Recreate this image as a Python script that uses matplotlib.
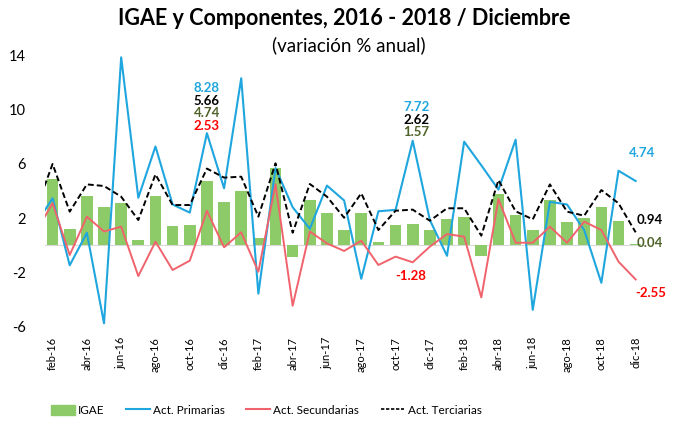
import matplotlib.pyplot as plt
import matplotlib.patches as mpatches
from matplotlib.lines import Line2D
import numpy as np

plt.rcParams['font.family'] = ['Lato', 'DejaVu Sans']

# monthly data, ene-16 .. dic-18 (ene-16 falls just outside the plot area)
meses = ['ene', 'feb', 'mar', 'abr', 'may', 'jun', 'jul', 'ago', 'sep', 'oct', 'nov', 'dic']
fechas = [f'{m}-{a}' for a in ['16', '17', '18'] for m in meses]

igae = [1.4, 4.9, 1.2, 3.6, 2.8, 3.1, 0.4, 3.6, 1.4, 1.5, 4.74, 3.2,
        4.0, 0.5, 5.7, -0.9, 3.3, 2.4, 1.1, 2.4, 0.2, 1.5, 1.57, 1.1,
        1.9, 2.1, -0.8, 3.8, 2.2, 1.1, 3.3, 1.7, 2.0, 2.8, 1.8, 0.04]
primarias = [1.5, 3.46, -1.5, 0.9, -5.8, 13.9, 3.5, 7.3, 3.0, 2.4, 8.28, 4.2,
             12.35, -3.6, 5.7, 2.8, 1.2, 4.4, 3.3, -2.5, 2.5, 2.6, 7.72, 1.85,
             -0.8, 7.65, 5.9, 4.1, 7.8, -4.8, 3.2, 3.0, 1.1, -2.8, 5.5, 4.74]
secundarias = [0.9, 3.1, -0.74, 2.1, 1.0, 1.36, -2.3, 0.25, -1.85, -1.16, 2.53, -0.17,
               0.94, -1.98, 4.5, -4.5, 1.0, 0.12, -0.44, 0.32, -1.48, -0.86, -1.28, -0.12,
               0.81, 0.62, -3.88, 3.4, 0.17, 0.17, 1.36, 0.17, 1.73, 1.11, -1.23, -2.55]
terciarias = [2.5, 6.0, 2.47, 4.49, 4.37, 3.58, 1.85, 5.23, 2.96, 2.96, 5.66, 4.99,
              5.06, 2.1, 6.05, 0.91, 4.52, 3.58, 2.02, 3.83, 1.11, 2.54, 2.62, 1.8,
              2.72, 2.72, 0.69, 4.81, 2.5, 1.9, 4.49, 2.47, 2.17, 4.07, 3.09, 0.94]

VERDE = '#8DCB68'
AZUL = '#1FA6DE'
ROJO = '#F0636C'
VERDE_TXT = '#4F6228'

fig = plt.figure(figsize=(6.76, 4.22), dpi=100)
ax = fig.add_axes([0.0666, 0.221, 0.8864, 0.656])

x = np.arange(len(fechas))
ax.bar(x, igae, width=0.68, color=VERDE, zorder=2)
ax.axhline(0, color='#d9d9d9', linewidth=0.8, zorder=1)
ax.plot(x, primarias, color=AZUL, linewidth=1.5, zorder=3)
ax.plot(x, secundarias, color=ROJO, linewidth=1.4, zorder=3)
ax.plot(x, terciarias, color='black', linewidth=1.4, linestyle=(0, (3, 1.6)), zorder=4)

ax.set_xlim(0.56, 35.5)
ax.set_ylim(-6.2, 14.3)
ax.set_yticks([-6, -2, 2, 6, 10, 14])
ax.set_yticklabels(['-6', '-2', '2', '6', '10', '14'])
ax.set_xticks(x[1::2])
ax.set_xticklabels(fechas[1::2], rotation=90, fontsize=8)
ax.tick_params(axis='y', length=0, pad=14, labelsize=10.5)
ax.tick_params(axis='x', length=0, pad=6)
ax.spines[['top', 'right', 'left', 'bottom']].set_visible(False)

# etiquetas de valores
bold = dict(fontsize=9.5, fontweight='bold', ha='center', va='center', clip_on=False)
i1, i2, i3 = 10, 22, 35
ax.text(i1, 11.6, f'{primarias[i1]:.2f}', color=AZUL, **bold)
ax.text(i1, 10.7, f'{terciarias[i1]:.2f}', color='black', **bold)
ax.text(i1, 9.8, f'{igae[i1]:.2f}', color=VERDE_TXT, **bold)
ax.text(i1, 8.8, f'{secundarias[i1]:.2f}', color='red', **bold)

ax.text(i2 + 0.2, 10.24, f'{primarias[i2]:.2f}', color=AZUL, **bold)
ax.text(i2 + 0.2, 9.26, f'{terciarias[i2]:.2f}', color='black', **bold)
ax.text(i2 + 0.2, 8.39, f'{igae[i2]:.2f}', color=VERDE_TXT, **bold)
ax.text(i2 - 0.1, -2.3, f'{secundarias[i2]:.2f}', color='red', **bold)

ax.text(i3 + 0.4, 6.8, f'{primarias[i3]:.2f}', color=AZUL, **bold)
ax.text(i3 + 0.8, 1.85, f'{terciarias[i3]:.2f}', color='black', **bold)
ax.text(i3 + 0.8, 0.15, f'{igae[i3]:.2f}', color=VERDE_TXT, **bold)
ax.text(i3 + 0.9, -3.56, f'{secundarias[i3]:.2f}', color='red', **bold)

fig.text(0.509, 0.955, 'IGAE y Componentes, 2016 - 2018 / Diciembre',
         ha='center', va='center', fontsize=15.5, fontweight='bold')
fig.text(0.516, 0.893, '(variación % anual)', ha='center', va='center', fontsize=13.5)

handles = [mpatches.Patch(color=VERDE, label='IGAE'),
           Line2D([], [], color=AZUL, linewidth=1.5, label='Act. Primarias'),
           Line2D([], [], color=ROJO, linewidth=1.5, label='Act. Secundarias'),
           Line2D([], [], color='black', linewidth=1.2, linestyle=(0, (2, 1)), label='Act. Terciarias')]
fig.legend(handles=handles, loc='center', bbox_to_anchor=(0.394, 0.028), ncol=4,
           frameon=False, fontsize=8.5, handlelength=2.0, handletextpad=0.3,
           columnspacing=1.8, handleheight=0.9)

plt.savefig('out.png', dpi=100)
